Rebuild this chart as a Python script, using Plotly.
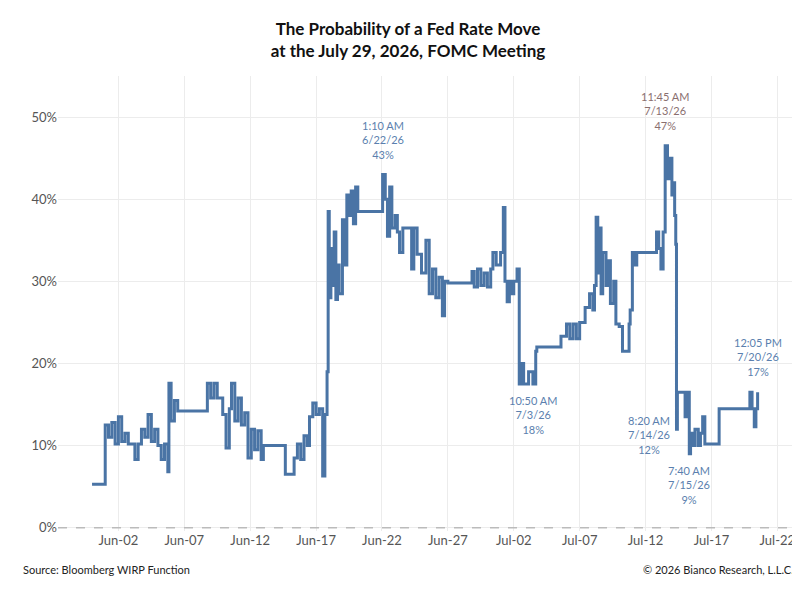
import plotly.graph_objects as go

times = ["2026-05-31 00:00","2026-06-01 00:00","2026-06-01 06:00","2026-06-01 12:00","2026-06-01 18:00","2026-06-02 00:00","2026-06-02 06:00","2026-06-02 12:00","2026-06-02 18:00",
"2026-06-03 00:00","2026-06-03 06:00","2026-06-03 12:00","2026-06-03 18:00","2026-06-04 00:00","2026-06-04 06:00","2026-06-04 12:00","2026-06-04 18:00",
"2026-06-05 00:00","2026-06-05 06:00","2026-06-05 12:00","2026-06-05 18:00","2026-06-05 20:00","2026-06-06 00:00","2026-06-06 06:00","2026-06-06 12:00",
"2026-06-08 18:00","2026-06-09 00:00","2026-06-09 06:00","2026-06-09 12:00","2026-06-09 22:00","2026-06-10 04:00","2026-06-10 10:00","2026-06-10 14:00","2026-06-10 20:00",
"2026-06-11 02:00","2026-06-11 08:00","2026-06-11 14:00","2026-06-11 20:00","2026-06-12 02:00","2026-06-12 08:00","2026-06-12 14:00","2026-06-12 20:00","2026-06-13 00:00",
"2026-06-14 16:00","2026-06-15 08:00","2026-06-15 14:00","2026-06-15 20:00","2026-06-16 02:00","2026-06-16 08:00","2026-06-16 12:00","2026-06-16 18:00",
"2026-06-17 00:00","2026-06-17 06:00","2026-06-17 12:00","2026-06-17 16:00","2026-06-17 20:00","2026-06-17 22:00","2026-06-18 00:00","2026-06-18 03:00","2026-06-18 06:00",
"2026-06-18 09:00","2026-06-18 12:00","2026-06-18 15:00","2026-06-18 18:00","2026-06-19 00:00","2026-06-19 04:00","2026-06-19 08:00","2026-06-19 12:00","2026-06-19 16:00",
"2026-06-19 20:00","2026-06-20 00:00","2026-06-20 04:00","2026-06-22 01:10","2026-06-22 06:00","2026-06-22 10:00","2026-06-22 14:00","2026-06-22 18:00",
"2026-06-23 00:00","2026-06-23 04:00","2026-06-23 08:00","2026-06-23 14:00","2026-06-24 06:00","2026-06-24 10:00","2026-06-24 16:00","2026-06-25 00:00","2026-06-25 08:00",
"2026-06-25 14:00","2026-06-25 20:00","2026-06-26 02:00","2026-06-26 08:00","2026-06-26 14:00","2026-06-26 18:00","2026-06-27 00:00","2026-06-28 20:00","2026-06-29 00:00",
"2026-06-29 06:00","2026-06-29 12:00","2026-06-29 18:00","2026-06-30 00:00","2026-06-30 06:00","2026-06-30 10:00","2026-06-30 16:00","2026-07-01 00:00","2026-07-01 05:00",
"2026-07-01 08:00","2026-07-01 12:00","2026-07-01 16:00","2026-07-01 20:00","2026-07-02 00:00","2026-07-02 06:00","2026-07-02 10:00","2026-07-02 14:00","2026-07-02 18:00",
"2026-07-03 03:00","2026-07-03 10:50","2026-07-03 16:00","2026-07-03 18:00","2026-07-05 14:00","2026-07-06 00:00","2026-07-06 06:00","2026-07-06 12:00","2026-07-06 18:00",
"2026-07-07 00:00","2026-07-07 10:00","2026-07-07 18:00","2026-07-08 00:00","2026-07-08 03:00","2026-07-08 06:00","2026-07-08 09:00","2026-07-08 12:00","2026-07-08 15:00",
"2026-07-08 18:00","2026-07-09 00:00","2026-07-09 04:00","2026-07-09 08:00","2026-07-09 14:00","2026-07-09 18:00","2026-07-10 00:00","2026-07-10 06:00","2026-07-10 18:00",
"2026-07-10 20:00","2026-07-11 00:00","2026-07-11 04:00","2026-07-11 08:00","2026-07-12 20:00","2026-07-13 00:00","2026-07-13 04:00","2026-07-13 08:00","2026-07-13 11:45",
"2026-07-13 16:00","2026-07-13 20:00","2026-07-14 00:00","2026-07-14 03:00","2026-07-14 05:00","2026-07-14 07:00","2026-07-14 08:20","2026-07-14 10:00","2026-07-14 20:00",
"2026-07-15 00:00","2026-07-15 03:00","2026-07-15 07:40","2026-07-15 10:00","2026-07-15 14:00","2026-07-15 18:00","2026-07-16 00:00","2026-07-16 04:00","2026-07-16 08:00",
"2026-07-16 12:00","2026-07-17 14:00","2026-07-19 22:00","2026-07-20 02:00","2026-07-20 06:00","2026-07-20 09:00","2026-07-20 12:05"]

probs = [5.3,12.5,11,12.8,10.2,13.5,10.5,11.5,10.2,
10.2,8.3,10.2,12,11,13.8,10.5,12,
10,8.3,10.2,6.8,17.6,13,15.5,14.2,
17.6,15.8,17.6,15.8,13.8,9.7,14.5,17.6,13,
15.8,12.5,14,8.5,12,9.5,11.8,8.3,10,
6.5,8.5,10.2,8.3,11.2,10,13.5,15.2,
13.8,14.5,6.3,13.8,19,38.5,28,34,29.5,
36,27.8,32,28.5,37.5,32,40.5,38,41,
37,41.5,38.5,43,40,35.5,41.5,36.5,
38,36,33.5,36.5,31.5,36.5,33.3,31,35,
28.5,31.5,28,30.5,25.8,30,29.8,31.2,29.3,
31.5,29.5,31,29.3,31.5,33.5,32,33.5,39,
30,27.5,30,28.5,30,31.5,17.5,20,17.5,
19,17.5,21.5,22,23.3,24.8,23,24.8,23,
25,26.8,28.5,26.5,29.5,37.8,31,36.5,28.5,
33.5,29.5,32.5,27.3,30,24.8,24.5,21.5,24.8,
26.5,33.5,32,33.5,36,34,31.5,36,46.5,
42.5,45,40.5,42,38,34.5,12,16.5,16.5,
13.5,16.5,9,11.5,10,12,10,11.5,13.5,
10.2,14.5,16.5,14.5,12.3,14.5,16.5]

labels = [("2026-06-22 01:10", 43, "1:10 AM<br>6/22/26<br>43%", "bottom", "#5b7fae"),
          ("2026-07-03 10:50", 17.5, "10:50 AM<br>7/3/26<br>18%", "top", "#5b7fae"),
          ("2026-07-13 11:45", 46.5, "11:45 AM<br>7/13/26<br>47%", "bottom", "#8a6f6f"),
          ("2026-07-14 08:20", 12, "8:20 AM<br>7/14/26<br>12%", "left", "#5b7fae"),
          ("2026-07-15 07:40", 9, "7:40 AM<br>7/15/26<br>9%", "top", "#5b7fae"),
          ("2026-07-20 12:05", 16.5, "12:05 PM<br>7/20/26<br>17%", "bottom", "#5b7fae")]

tick_dates = ["2026-06-02","2026-06-07","2026-06-12","2026-06-17","2026-06-22","2026-06-27",
              "2026-07-02","2026-07-07","2026-07-12","2026-07-17","2026-07-22"]
y_ticks = [0, 10, 20, 30, 40, 50]
y_tick_text = ["0%", "10%", "20%", "30%", "40%", "50%"]

fig = go.Figure()
fig.add_trace(go.Scatter(x=times, y=probs, mode="lines", line=dict(color="#4a74a5", width=3, shape="hv"),
                         hoverinfo="skip", showlegend=False))
fig.add_hline(y=0, line=dict(color="#bbbbbb", width=1.5, dash="dash"))

for x, y, t, pos, c in labels:
    if pos == "bottom":
        kw = dict(yshift=12, yanchor="bottom", xanchor="center")
    elif pos == "top":
        kw = dict(yshift=-8, yanchor="top", xanchor="center")
    else:
        kw = dict(xshift=-4, yshift=-6, yanchor="middle", xanchor="right")
    fig.add_annotation(x=x, y=y, text=t, showarrow=False, font=dict(size=11, color=c, family="Lato"), **kw)

fig.add_annotation(xref="paper", yref="paper", x=-0.05, y=-0.065, xanchor="left", yanchor="top", showarrow=False,
                   text="Source: Bloomberg WIRP Function", font=dict(size=11, color="#222", family="Lato"))
fig.add_annotation(xref="paper", yref="paper", x=1.0, y=-0.065, xanchor="right", yanchor="top", showarrow=False,
                   text="© 2026 Bianco Research, L.L.C.", font=dict(size=11, color="#222", family="Lato"))

fig.update_layout(
    width=800, height=600, paper_bgcolor="white", plot_bgcolor="white",
    margin=dict(l=50, r=12, t=68, b=77),
    font=dict(family="Lato", color="#444"),
    title=dict(text="<b>The Probability of a Fed Rate Move<br>at the July 29, 2026, FOMC Meeting</b>",
               x=0.5, xanchor="center", y=0.955, yanchor="top", font=dict(size=17, color="#111", family="Lato")),
    xaxis=dict(type="date", range=["2026-05-28 10:00", "2026-07-23 10:00"], tickvals=tick_dates,
               tickformat="%b-%d", showgrid=True, gridcolor="#ececec", zeroline=False,
               showline=False, tickfont=dict(size=13, color="#555"), ticks=""),
    yaxis=dict(range=[-0.4, 55], tickvals=y_ticks, ticktext=y_tick_text,
               showgrid=True, gridcolor="#ececec", zeroline=False, tickfont=dict(size=13, color="#555")),
)
fig.write_html("out.html")
